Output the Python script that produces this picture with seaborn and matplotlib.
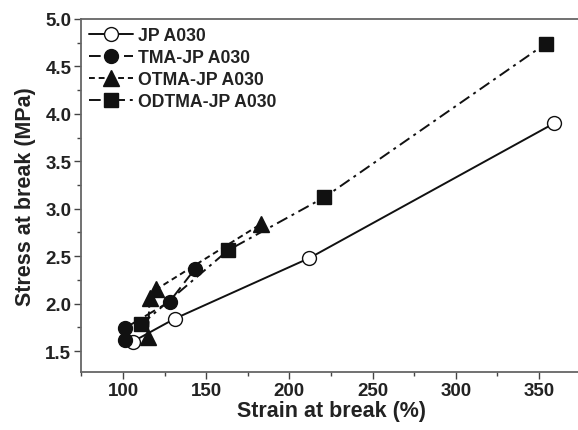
import matplotlib
matplotlib.use("Agg")
import matplotlib.pyplot as plt
import seaborn as sns
import pandas as pd
from matplotlib.ticker import MultipleLocator

sns.set_theme(style="white")
plt.rcParams['font.family'] = ['Liberation Sans', 'DejaVu Sans']
plt.rcParams['font.weight'] = 'bold'

# data
jp_x = [106, 131, 212, 359]
jp_y = [1.60, 1.84, 2.48, 3.90]
tma_x = [101, 101, 128, 143]
tma_y = [1.62, 1.74, 2.02, 2.36]
otma_x = [115, 116, 120, 183]
otma_y = [1.65, 2.06, 2.15, 2.84]
odtma_x = [111, 163, 221, 354]
odtma_y = [1.78, 2.56, 3.12, 4.74]

labels = ["JP A030", "TMA-JP A030", "OTMA-JP A030", "ODTMA-JP A030"]
xticks = [100, 150, 200, 250, 300, 350]
yticks = [1.5, 2.0, 2.5, 3.0, 3.5, 4.0, 4.5, 5.0]
ytick_labels = ["1.5", "2.0", "2.5", "3.0", "3.5", "4.0", "4.5", "5.0"]

fig = plt.figure(figsize=(5.78, 4.31), dpi=100)
ax = fig.add_axes([81 / 578, 1 - 373 / 431, 501 / 578, 353 / 431])

series = [
    (jp_x, jp_y, labels[0], 'o', 'white', None, 10),
    (tma_x, tma_y, labels[1], 'o', '#111111', (6, 3), 10),
    (otma_x, otma_y, labels[2], '^', '#111111', (3, 2), 12),
    (odtma_x, odtma_y, labels[3], 's', '#111111', (6, 2.5, 1.5, 2.5), 9.5),
]

for xs, ys, lab, mk, fc, dash, ms in series:
    df = pd.DataFrame({"x": xs, "y": ys})
    sns.lineplot(data=df, x="x", y="y", ax=ax, sort=False, estimator=None,
                 color='#111111', lw=1.4, marker=mk, markersize=ms,
                 markerfacecolor=fc, markeredgecolor='#111111',
                 markeredgewidth=1.0, label=lab)
    l = ax.lines[-1]
    if dash is not None:
        l.set_dashes(dash)

ax.set_xlim(74.8, 375.8)
ax.set_ylim(1.279, 5.0)
ax.xaxis.set_minor_locator(MultipleLocator(25))
ax.yaxis.set_minor_locator(MultipleLocator(0.25))
ax.set_xticks(xticks)
ax.set_yticks(yticks)
ax.set_yticklabels(ytick_labels)

ax.tick_params(axis='both', which='major', direction='out', length=5, width=1,
               color='#444444', labelsize=13.5, labelcolor='#222222',
               bottom=True, left=True, pad=2)
ax.tick_params(axis='both', which='minor', direction='out', length=3, width=1,
               color='#444444', bottom=True, left=True)
for lab in ax.get_xticklabels() + ax.get_yticklabels():
    lab.set_fontweight('bold')

for s in ax.spines.values():
    s.set_color('#666666')
    s.set_linewidth(1.3)

ax.set_xlabel("Strain at break (%)", fontsize=15.5, fontweight='bold', color='#222222', labelpad=1)
ax.set_ylabel("Stress at break (MPa)", fontsize=15.5, fontweight='bold', color='#222222', labelpad=7)

leg = ax.legend(loc='upper left', frameon=False, fontsize=12.7, handlelength=2.5,
                handletextpad=0.25, labelspacing=0.28, borderaxespad=0.0,
                borderpad=0.3, bbox_to_anchor=(0.006, 0.992))
for t in leg.get_texts():
    t.set_fontweight('bold')
    t.set_color('#222222')

fig.savefig("out.png", dpi=100)
